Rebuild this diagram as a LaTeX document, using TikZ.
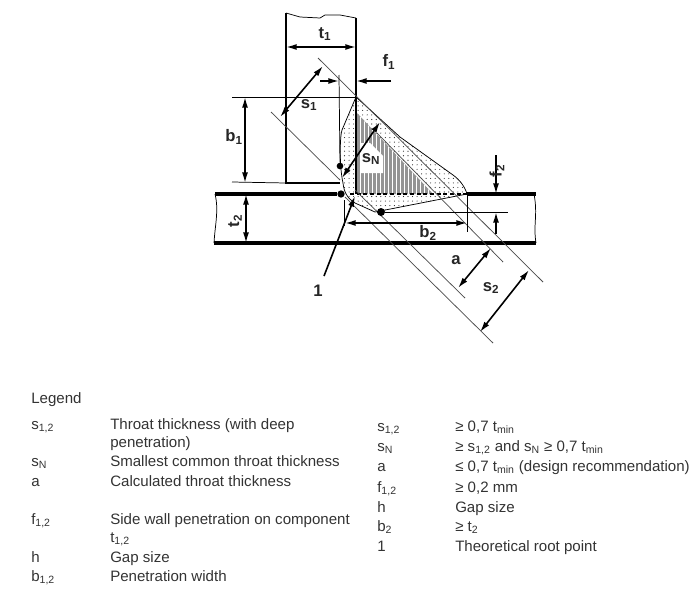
\documentclass[tikz,border=0pt]{standalone}
\usepackage{fontspec}
\setmainfont{Liberation Sans}
\usetikzlibrary{arrows.meta,patterns.meta}
\newcommand{\lsub}[1]{\textsubscript{#1}}
\tikzset{plate/.style={line width=2.4pt},
         wall/.style={line width=1.6pt},
         thin line/.style={line width=.55pt},
         guide/.style={line width=.55pt,draw=black!70},
         dim/.style={{Latex[length=8pt,width=4.5pt]}-{Latex[length=8pt,width=4.5pt]},line width=1.2pt},
         pointer/.style={-{Latex[length=8pt,width=4.5pt]},line width=1.2pt},
         dot/.style={circle,fill,inner sep=0pt,minimum size=5.5pt},
         lab/.style={font=\bfseries\fontsize{12.5}{13}\selectfont,inner sep=0pt,text=black!85},
         legend/.style={anchor=base west,inner sep=0pt,text=black!80,font=\fontsize{11.3}{12}\selectfont}}
\begin{document}
\begin{tikzpicture}[x=.75pt,y=-.75pt]
\useasboundingbox (0,0) rectangle (695,600);
% weld
\coordinate (wtop) at (356,97);
\coordinate (wtoe) at (467,194);
\coordinate (wlow) at (375,212);
\fill[pattern={Dots[distance=3.4pt,radius=.42pt]},pattern color=black!85] (wtop) -- (400,137) -- (453,175)
  .. controls (460,180) and (465,187) .. (wtoe) -- (wlow) -- (355,203)
  .. controls (347,198) and (344,192) .. (343,183) .. controls (339,165) and (340,135) .. (342,130) -- cycle;
\fill[black!42] (357,113) -- (433,194) -- (357,194) -- cycle;
\fill[pattern={Lines[angle=90,distance=3pt,line width=.6pt]},pattern color=white] (357,113) -- (433,194) -- (357,194) -- cycle;
\fill[white] (361,143) -- (370,143) -- (383,156) -- (383,173) -- (361,173) -- cycle;
\draw[thin line] (wtop) -- (400,137) -- (453,175)
  .. controls (460,180) and (465,187) .. (wtoe) -- (wlow) -- (355,203)
  .. controls (347,198) and (344,192) .. (343,183) .. controls (339,165) and (340,135) .. (342,130) -- (wtop);
% upright plate
\coordinate (pl) at (286,13);
\coordinate (pr) at (356,18);
\coordinate (pll) at (286,183);
\coordinate (prl) at (356,194);
\draw[thin line] (pl) -- (300,17) -- (320,18) -- (325,15) -- (340,15) -- (pr);
\draw[wall] (pl) -- (pll) -- (340,183);
\draw[wall] (pr) -- (prl);
% base plate
\coordinate (bl) at (215,194);
\coordinate (br) at (536,194);
\coordinate (cl) at (214,243);
\coordinate (cr) at (536,243);
\coordinate (bm) at (341,194);
\node[dot] (rootdot) at (bm) {};
\draw[plate] (bl) -- (rootdot);
\draw[plate] (wtoe) -- (br);
\draw[plate] (cl) -- (cr);
\draw[line width=1.3pt,densely dashed] (350,194) -- (wtoe);
\draw[thin line] (bl) .. controls (219,210) and (215,225) .. (cl);
\draw[thin line] (534,194) .. controls (538,215) and (533,225) .. (cr);
% guide lines at 45 degrees
\draw[guide] (318,58) -- (543,282);
\draw[guide] (377,133) -- (503,262);
\draw[guide] (271,112) -- (340,180);
\draw[guide] (355,190) -- (465,298);
\draw[guide] (345,197) -- (493,343);
% extension lines
\draw[thin line] (232,97) -- (wtop);
\draw[thin line] (232,182) -- (pll);
\draw[thin line] (467,195) -- (467,232);
\draw[thin line] (344,200) -- (344,226);
\node[dot,minimum size=5pt] (fdot) at (340,166) {};
\node[dot,minimum size=6pt] (hdot) at (381,212) {};
\draw[thin line] (339,75) -- (fdot);
\draw[thin line] (hdot) -- (508,212);
% dimensions
\draw[dim] (286,47) -- (356,47);
\node[lab] (t1) at (325,34) {t\lsub{1}};
\draw[pointer] (320,81) -- (339,81);
\draw[pointer] (391,81) -- (356,81);
\node[lab] (f1) at (389,62) {f\lsub{1}};
\draw[dim] (245,97) -- (245,183);
\node[lab] (b1) at (234,137) {b\lsub{1}};
\draw[dim] (246,194) -- (246,243);
\node[lab,rotate=90] (t2) at (235,221) {t\lsub{2}};
\draw[dim] (280,117) -- (323,66);
\node[lab] (s1) at (309,105) {s\lsub{1}};
\draw[dim] (342,178) -- (380,122);
\node[lab] (sN) at (371,159) {s\lsub{N}};
\draw[dim] (345,223) -- (467,223);
\node[lab] (b2) at (428,233) {b\lsub{2}};
\draw[pointer] (496,155) -- (496,194);
\draw[pointer] (496,234) -- (496,212);
\node[lab,rotate=90] (f2) at (497,171) {f\lsub{2}};
\draw[dim] (458,288) -- (491,248);
\node[lab] (a) at (456,260) {a};
\draw[dim] (480,332) -- (529,270);
\node[lab] (s2) at (491,288) {s\lsub{2}};
\coordinate (num) at (324,276);
\draw[pointer] (num) -- (355,196);
\node[lab] (one) at (318,291) {1};
% legend
\node[legend] (legend) at (31,403) {Legend};
\foreach \nm/\sym/\txt/\yy in {a/s\lsub{1,2}/Throat thickness (with deep/429,
    b//penetration)/447, c/s\lsub{N}/Smallest common throat thickness/466,
    d/a/Calculated throat thickness/486, e/f\lsub{1,2}/Side wall penetration on component/524,
    f//t\lsub{1,2}/542, g/h/Gap size/562, h/b\lsub{1,2}/Penetration width/581}
  {\node[legend] (ls\nm) at (31,\yy) {\sym};
   \node[legend] (lt\nm) at (110,\yy) {\txt};}
\foreach \nm/\sym/\txt/\yy in {a/s\lsub{1,2}/{≥ 0,7 t\lsub{min}}/431,
    b/s\lsub{N}/{≥ s\lsub{1,2} and s\lsub{N} ≥ 0,7 t\lsub{min}}/451,
    c/a/{≤ 0,7 t\lsub{min} (design recommendation)}/471, d/f\lsub{1,2}/{≥ 0,2 mm}/492,
    e/h/Gap size/512, f/b\lsub{2}/≥ t\lsub{2}/531, g/1/Theoretical root point/551}
  {\node[legend] (rs\nm) at (377,\yy) {\sym};
   \node[legend] (rt\nm) at (455,\yy) {\txt};}
\end{tikzpicture}
\end{document}
